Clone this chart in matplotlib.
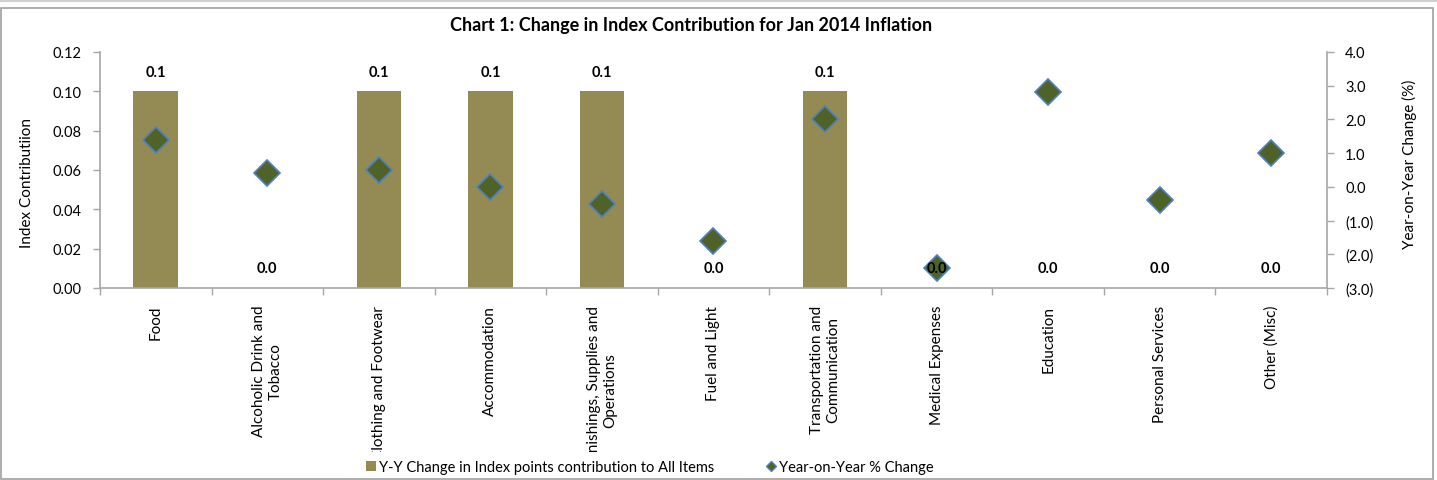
import matplotlib
matplotlib.use("Agg")
import matplotlib.pyplot as plt
from matplotlib.lines import Line2D
from matplotlib.patches import Patch, Rectangle
from matplotlib.transforms import Bbox, TransformedBbox
import numpy as np

plt.rcParams['font.family'] = ['Lato', 'DejaVu Sans']

categories = [
    "Food",
    "Alcoholic Drink and\nTobacco",
    "Clothing and Footwear",
    "Accommodation",
    "Furnishings, Supplies and\nOperations",
    "Fuel and Light",
    "Transportation and\nCommunication",
    "Medical Expenses",
    "Education",
    "Personal Services",
    "Other (Misc)",
]
index_contribution = [0.1, 0.0, 0.1, 0.1, 0.1, 0.0, 0.1, 0.0, 0.0, 0.0, 0.0]
yoy_change = [1.4, 0.4, 0.5, 0.0, -0.5, -1.6, 2.0, -2.4, 2.8, -0.4, 1.0]

left_ticks = [0.00, 0.02, 0.04, 0.06, 0.08, 0.10, 0.12]
right_ticks = [-3.0, -2.0, -1.0, 0.0, 1.0, 2.0, 3.0, 4.0]

bar_color = "#948A54"
marker_face = "#4F6228"
marker_edge = "#4F81BD"
axis_color = "#A6A6A6"

W, H = 1437, 481
fig = plt.figure(figsize=(W / 100, H / 100), dpi=100)

# outer chart frame
fig.patches.append(Rectangle((1 / W, 1 - 480 / H), 1432 / W, 471 / H,
                             transform=fig.transFigure, fill=False,
                             edgecolor="#A0A0A0", linewidth=1.2))
fig.lines.append(Line2D([0, 1], [1 - 1.5 / H, 1 - 1.5 / H], transform=fig.transFigure,
                        color="#D0D0D0", linewidth=1.5))

ax = fig.add_axes([100 / W, 1 - 289 / H, (1327 - 100) / W, (289 - 53) / H])
x = np.arange(len(categories))
bars = ax.bar(x, index_contribution, width=0.4, color=bar_color, zorder=2)
ax.set_xlim(-0.5, len(categories) - 0.5)
ax.set_ylim(0, 0.12)
ax.set_yticks(left_ticks)
ax.set_yticklabels([f"{v:.2f}" for v in left_ticks], fontsize=10.5)
ax.set_ylabel("Index Contributiion", fontsize=11)
ax.yaxis.set_label_coords(-0.054, 0.45)

ax.set_xticks(x)
ax.set_xticklabels(categories, rotation=90, fontsize=11, va="top", ha="center",
                   multialignment="center")
ax.set_xticks(np.arange(-0.5, len(categories)), minor=True)
ax.tick_params(axis="x", which="major", length=0, pad=12)
ax.tick_params(axis="x", which="minor", length=5, color=axis_color, width=1)
ax.tick_params(axis="y", length=5, color=axis_color, width=1, pad=8)

for s in ["top", "right"]:
    ax.spines[s].set_visible(False)
for s in ["left", "bottom"]:
    ax.spines[s].set_color(axis_color)
    ax.spines[s].set_linewidth(1.2)

ax2 = ax.twinx()
ax2.plot(x, yoy_change, linestyle="none", marker="D", markersize=13,
         markerfacecolor=marker_face, markeredgecolor=marker_edge,
         markeredgewidth=1.2, zorder=3)
ax2.set_ylim(-3.0, 4.0)
ax2.set_yticks(right_ticks)
ax2.set_yticklabels([f"({abs(v):.1f})" if v < 0 else f"{v:.1f}" for v in right_ticks],
                    fontsize=10.5)
ax2.set_ylabel("Year-on-Year Change (%)", fontsize=11)
ax2.yaxis.set_label_coords(1.061, 0.53)
ax2.tick_params(axis="y", length=5, color=axis_color, width=1, pad=8)
for s in ["top", "left", "bottom"]:
    ax2.spines[s].set_visible(False)
ax2.spines["right"].set_color(axis_color)
ax2.spines["right"].set_linewidth(1.2)

# bar value labels drawn on top axes so they sit above markers
for b, v in zip(bars, index_contribution):
    ax2.annotate(f"{v:.1f}", xy=(b.get_x() + b.get_width() / 2, v),
                 xycoords=ax.transData, xytext=(0, 9), textcoords="offset points",
                 ha="center", va="bottom", fontsize=10.5, fontweight="bold", zorder=5)

fig.text(450 / W, 1 - 25 / H,
         "Chart 1: Change in Index Contribution for Jan 2014 Inflation",
         fontsize=13, fontweight="bold", ha="left", va="center")

handles = [Patch(facecolor=bar_color, edgecolor="none"),
           Line2D([], [], linestyle="none", marker="D", markersize=5,
                  markerfacecolor=marker_face, markeredgecolor=marker_edge)]
fig.legend(handles, ["Y-Y Change in Index points contribution to All Items",
                     "Year-on-Year % Change"],
           loc="center left", bbox_to_anchor=(366 / W, 1 - 468 / H), ncol=2, frameon=False,
           fontsize=10.5, handlelength=0.7, handleheight=0.7, handletextpad=0.2,
           columnspacing=3.5, borderpad=0, borderaxespad=0)

fig.canvas.draw()
clip = TransformedBbox(Bbox([[0, 1 - 453 / H], [1, 1]]), fig.transFigure)
for lbl in ax.get_xticklabels():
    lbl.set_clip_on(True)
    lbl.set_clip_box(clip)

fig.savefig("out.png", dpi=100)
